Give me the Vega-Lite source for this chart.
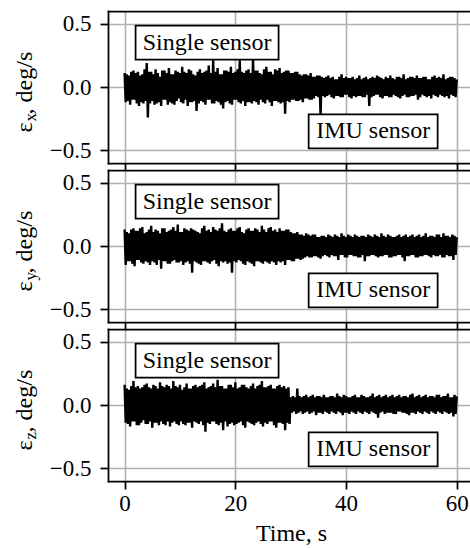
{
  "$schema": "https://vega.github.io/schema/vega-lite/v6.json",
  "padding": {"left": 12, "top": 11, "right": 0, "bottom": 0},
  "bounds": "flush",
  "spacing": 7,
  "background": "white",
  "config": {
    "view": {"stroke": null},
    "font": "Liberation Serif",
    "axis": {
      "domainColor": "black", "domainWidth": 1.75, "domainCap": "square",
      "tickColor": "black", "tickWidth": 1.75, "tickSize": 8,
      "labelFont": "Liberation Serif", "labelFontSize": 23, "labelColor": "black",
      "titleFont": "Liberation Serif", "titleFontSize": 24, "titleFontWeight": "normal", "titleColor": "black",
      "gridColor": "#b0b0b0", "gridWidth": 1.6, "gridOpacity": 1
    }
  },
  "datasets": {
    "ann": [
      {"t": 14.9, "v": 0.35, "label": "Single sensor"},
      {"t": 44.9, "v": -0.35, "label": "IMU sensor"}
    ],
    "ex": [
      {"t":0,"v":0.11},{"t":0.2,"v":-0.12},{"t":0.4,"v":0.1},{"t":0.6,"v":-0.11},
      {"t":0.8,"v":0.09},{"t":1,"v":-0.14},{"t":1.2,"v":0.12},{"t":1.4,"v":-0.1},
      {"t":1.6,"v":0.13},{"t":1.8,"v":-0.1},{"t":2,"v":0.11},{"t":2.2,"v":-0.13},
      {"t":2.4,"v":0.12},{"t":2.6,"v":-0.15},{"t":2.8,"v":0.09},{"t":3,"v":-0.12},
      {"t":3.2,"v":0.1},{"t":3.4,"v":-0.13},{"t":3.6,"v":0.14},{"t":3.8,"v":-0.11},
      {"t":4,"v":0.19},{"t":4.2,"v":-0.24},{"t":4.4,"v":0.12},{"t":4.6,"v":-0.13},
      {"t":4.8,"v":0.12},{"t":5,"v":-0.11},{"t":5.2,"v":0.1},{"t":5.4,"v":-0.14},
      {"t":5.6,"v":0.14},{"t":5.8,"v":-0.13},{"t":6,"v":0.11},{"t":6.2,"v":-0.12},
      {"t":6.4,"v":0.08},{"t":6.6,"v":-0.15},{"t":6.8,"v":0.13},{"t":7,"v":-0.1},
      {"t":7.2,"v":0.13},{"t":7.4,"v":-0.1},{"t":7.6,"v":0.11},{"t":7.8,"v":-0.14},
      {"t":8,"v":0.15},{"t":8.2,"v":-0.12},{"t":8.4,"v":0.1},{"t":8.6,"v":-0.13},
      {"t":8.8,"v":0.1},{"t":9,"v":-0.14},{"t":9.2,"v":0.13},{"t":9.4,"v":-0.11},
      {"t":9.6,"v":0.12},{"t":9.8,"v":-0.09},{"t":10,"v":0.11},{"t":10.2,"v":-0.12},
      {"t":10.4,"v":0.16},{"t":10.6,"v":-0.13},{"t":10.8,"v":0.12},{"t":11,"v":-0.1},
      {"t":11.2,"v":0.11},{"t":11.4,"v":-0.15},{"t":11.6,"v":0.14},{"t":11.8,"v":-0.12},
      {"t":12,"v":0.13},{"t":12.2,"v":-0.12},{"t":12.4,"v":0.1},{"t":12.6,"v":-0.11},
      {"t":12.8,"v":0.09},{"t":13,"v":-0.19},{"t":13.2,"v":0.12},{"t":13.4,"v":-0.13},
      {"t":13.6,"v":0.14},{"t":13.8,"v":-0.11},{"t":14,"v":0.11},{"t":14.2,"v":-0.12},
      {"t":14.4,"v":0.12},{"t":14.6,"v":-0.14},{"t":14.8,"v":0.13},{"t":15,"v":-0.1},
      {"t":15.2,"v":0.17},{"t":15.4,"v":-0.1},{"t":15.6,"v":0.11},{"t":15.8,"v":-0.13},
      {"t":16,"v":0.21},{"t":16.2,"v":-0.13},{"t":16.4,"v":0.12},{"t":16.6,"v":-0.11},
      {"t":16.8,"v":0.15},{"t":17,"v":-0.12},{"t":17.2,"v":0.1},{"t":17.4,"v":-0.14},
      {"t":17.6,"v":0.1},{"t":17.8,"v":-0.17},{"t":18,"v":0.13},{"t":18.2,"v":-0.12},
      {"t":18.4,"v":0.13},{"t":18.6,"v":-0.11},{"t":18.8,"v":0.12},{"t":19,"v":-0.13},
      {"t":19.2,"v":0.16},{"t":19.4,"v":-0.14},{"t":19.6,"v":0.11},{"t":19.8,"v":-0.1},
      {"t":20,"v":0.12},{"t":20.2,"v":-0.1},{"t":20.4,"v":0.14},{"t":20.6,"v":-0.12},
      {"t":20.8,"v":0.21},{"t":21,"v":-0.13},{"t":21.2,"v":0.12},{"t":21.4,"v":-0.11},
      {"t":21.6,"v":0.11},{"t":21.8,"v":-0.15},{"t":22,"v":0.13},{"t":22.2,"v":-0.12},
      {"t":22.4,"v":0.14},{"t":22.6,"v":-0.12},{"t":22.8,"v":0.11},{"t":23,"v":-0.13},
      {"t":23.2,"v":0.22},{"t":23.4,"v":-0.11},{"t":23.6,"v":0.13},{"t":23.8,"v":-0.12},
      {"t":24,"v":0.13},{"t":24.2,"v":-0.14},{"t":24.4,"v":0.11},{"t":24.6,"v":-0.1},
      {"t":24.8,"v":0.1},{"t":25,"v":-0.12},{"t":25.2,"v":0.14},{"t":25.4,"v":-0.13},
      {"t":25.6,"v":0.16},{"t":25.8,"v":-0.1},{"t":26,"v":0.12},{"t":26.2,"v":-0.12},
      {"t":26.4,"v":0.12},{"t":26.6,"v":-0.15},{"t":26.8,"v":0.1},{"t":27,"v":-0.11},
      {"t":27.2,"v":0.14},{"t":27.4,"v":-0.11},{"t":27.6,"v":0.13},{"t":27.8,"v":-0.12},
      {"t":28,"v":0.15},{"t":28.2,"v":-0.13},{"t":28.4,"v":0.11},{"t":28.6,"v":-0.12},
      {"t":28.8,"v":0.12},{"t":29,"v":-0.21},{"t":29.2,"v":0.13},{"t":29.4,"v":-0.11},
      {"t":29.6,"v":0.13},{"t":29.8,"v":-0.12},{"t":30,"v":0.11},{"t":30.2,"v":-0.1},
      {"t":30.4,"v":0.11},{"t":30.6,"v":-0.1},{"t":30.8,"v":0.12},{"t":31,"v":-0.11},
      {"t":31.2,"v":0.12},{"t":31.4,"v":-0.11},{"t":31.6,"v":0.1},{"t":31.8,"v":-0.1},
      {"t":32,"v":0.09},{"t":32.2,"v":-0.12},{"t":32.4,"v":0.1},{"t":32.6,"v":-0.09},
      {"t":32.8,"v":0.1},{"t":33,"v":-0.09},{"t":33.2,"v":0.09},{"t":33.4,"v":-0.1},
      {"t":33.6,"v":0.11},{"t":33.8,"v":-0.1},{"t":34,"v":0.08},{"t":34.2,"v":-0.09},
      {"t":34.4,"v":0.08},{"t":34.6,"v":-0.07},{"t":34.8,"v":0.09},{"t":35,"v":-0.08},
      {"t":35.2,"v":0.09},{"t":35.4,"v":-0.22},{"t":35.6,"v":0.08},{"t":35.8,"v":-0.07},
      {"t":36,"v":0.07},{"t":36.2,"v":-0.08},{"t":36.4,"v":0.08},{"t":36.6,"v":-0.07},
      {"t":36.8,"v":0.09},{"t":37,"v":-0.06},{"t":37.2,"v":0.07},{"t":37.4,"v":-0.08},
      {"t":37.6,"v":0.08},{"t":37.8,"v":-0.09},{"t":38,"v":0.06},{"t":38.2,"v":-0.07},
      {"t":38.4,"v":0.06},{"t":38.6,"v":-0.07},{"t":38.8,"v":0.08},{"t":39,"v":-0.08},
      {"t":39.2,"v":0.1},{"t":39.4,"v":-0.08},{"t":39.6,"v":0.07},{"t":39.8,"v":-0.06},
      {"t":40,"v":0.08},{"t":40.2,"v":-0.06},{"t":40.4,"v":0.07},{"t":40.6,"v":-0.08},
      {"t":40.8,"v":0.07},{"t":41,"v":-0.09},{"t":41.2,"v":0.08},{"t":41.4,"v":-0.07},
      {"t":41.6,"v":0.06},{"t":41.8,"v":-0.08},{"t":42,"v":0.07},{"t":42.2,"v":-0.07},
      {"t":42.4,"v":0.09},{"t":42.6,"v":-0.07},{"t":42.8,"v":0.06},{"t":43,"v":-0.08},
      {"t":43.2,"v":0.07},{"t":43.4,"v":-0.08},{"t":43.6,"v":0.08},{"t":43.8,"v":-0.06},
      {"t":44,"v":0.06},{"t":44.2,"v":-0.15},{"t":44.4,"v":0.07},{"t":44.6,"v":-0.08},
      {"t":44.8,"v":0.08},{"t":45,"v":-0.07},{"t":45.2,"v":0.07},{"t":45.4,"v":-0.06},
      {"t":45.6,"v":0.09},{"t":45.8,"v":-0.06},{"t":46,"v":0.08},{"t":46.2,"v":-0.08},
      {"t":46.4,"v":0.07},{"t":46.6,"v":-0.09},{"t":46.8,"v":0.06},{"t":47,"v":-0.07},
      {"t":47.2,"v":0.08},{"t":47.4,"v":-0.07},{"t":47.6,"v":0.07},{"t":47.8,"v":-0.08},
      {"t":48,"v":0.09},{"t":48.2,"v":-0.08},{"t":48.4,"v":0.07},{"t":48.6,"v":-0.06},
      {"t":48.8,"v":0.06},{"t":49,"v":-0.07},{"t":49.2,"v":0.08},{"t":49.4,"v":-0.08},
      {"t":49.6,"v":0.08},{"t":49.8,"v":-0.09},{"t":50,"v":0.07},{"t":50.2,"v":-0.07},
      {"t":50.4,"v":0.1},{"t":50.6,"v":-0.06},{"t":50.8,"v":0.06},{"t":51,"v":-0.08},
      {"t":51.2,"v":0.07},{"t":51.4,"v":-0.08},{"t":51.6,"v":0.08},{"t":51.8,"v":-0.07},
      {"t":52,"v":0.08},{"t":52.2,"v":-0.07},{"t":52.4,"v":0.07},{"t":52.6,"v":-0.06},
      {"t":52.8,"v":0.09},{"t":53,"v":-0.1},{"t":53.2,"v":0.07},{"t":53.4,"v":-0.08},
      {"t":53.6,"v":0.07},{"t":53.8,"v":-0.06},{"t":54,"v":0.08},{"t":54.2,"v":-0.07},
      {"t":54.4,"v":0.08},{"t":54.6,"v":-0.08},{"t":54.8,"v":0.06},{"t":55,"v":-0.07},
      {"t":55.2,"v":0.06},{"t":55.4,"v":-0.09},{"t":55.6,"v":0.08},{"t":55.8,"v":-0.06},
      {"t":56,"v":0.09},{"t":56.2,"v":-0.07},{"t":56.4,"v":0.07},{"t":56.6,"v":-0.08},
      {"t":56.8,"v":0.08},{"t":57,"v":-0.06},{"t":57.2,"v":0.07},{"t":57.4,"v":-0.07},
      {"t":57.6,"v":0.1},{"t":57.8,"v":-0.08},{"t":58,"v":0.06},{"t":58.2,"v":-0.07},
      {"t":58.4,"v":0.07},{"t":58.6,"v":-0.09},{"t":58.8,"v":0.08},{"t":59,"v":-0.06},
      {"t":59.2,"v":0.08},{"t":59.4,"v":-0.07},{"t":59.6,"v":0.07},{"t":59.8,"v":-0.08},
      {"t":60,"v":0.06}
    ],
    "ey": [
      {"t":0,"v":0.13},{"t":0.2,"v":-0.15},{"t":0.4,"v":0.11},{"t":0.6,"v":-0.12},
      {"t":0.8,"v":0.1},{"t":1,"v":-0.12},{"t":1.2,"v":0.13},{"t":1.4,"v":-0.14},
      {"t":1.6,"v":0.14},{"t":1.8,"v":-0.16},{"t":2,"v":0.12},{"t":2.2,"v":-0.11},
      {"t":2.4,"v":0.12},{"t":2.6,"v":-0.11},{"t":2.8,"v":0.14},{"t":3,"v":-0.13},
      {"t":3.2,"v":0.15},{"t":3.4,"v":-0.14},{"t":3.6,"v":0.1},{"t":3.8,"v":-0.12},
      {"t":4,"v":0.11},{"t":4.2,"v":-0.13},{"t":4.4,"v":0.13},{"t":4.6,"v":-0.15},
      {"t":4.8,"v":0.16},{"t":5,"v":-0.12},{"t":5.2,"v":0.11},{"t":5.4,"v":-0.13},
      {"t":5.6,"v":0.13},{"t":5.8,"v":-0.15},{"t":6,"v":0.12},{"t":6.2,"v":-0.11},
      {"t":6.4,"v":0.1},{"t":6.6,"v":-0.18},{"t":6.8,"v":0.14},{"t":7,"v":-0.12},
      {"t":7.2,"v":0.14},{"t":7.4,"v":-0.12},{"t":7.6,"v":0.11},{"t":7.8,"v":-0.14},
      {"t":8,"v":0.12},{"t":8.2,"v":-0.14},{"t":8.4,"v":0.13},{"t":8.6,"v":-0.12},
      {"t":8.8,"v":0.15},{"t":9,"v":-0.11},{"t":9.2,"v":0.12},{"t":9.4,"v":-0.13},
      {"t":9.6,"v":0.17},{"t":9.8,"v":-0.13},{"t":10,"v":0.11},{"t":10.2,"v":-0.12},
      {"t":10.4,"v":0.11},{"t":10.6,"v":-0.15},{"t":10.8,"v":0.14},{"t":11,"v":-0.13},
      {"t":11.2,"v":0.13},{"t":11.4,"v":-0.12},{"t":11.6,"v":0.12},{"t":11.8,"v":-0.14},
      {"t":12,"v":0.14},{"t":12.2,"v":-0.21},{"t":12.4,"v":0.13},{"t":12.6,"v":-0.12},
      {"t":12.8,"v":0.12},{"t":13,"v":-0.13},{"t":13.2,"v":0.11},{"t":13.4,"v":-0.14},
      {"t":13.6,"v":0.1},{"t":13.8,"v":-0.15},{"t":14,"v":0.14},{"t":14.2,"v":-0.12},
      {"t":14.4,"v":0.16},{"t":14.6,"v":-0.12},{"t":14.8,"v":0.12},{"t":15,"v":-0.13},
      {"t":15.2,"v":0.13},{"t":15.4,"v":-0.14},{"t":15.6,"v":0.11},{"t":15.8,"v":-0.12},
      {"t":16,"v":0.15},{"t":16.2,"v":-0.11},{"t":16.4,"v":0.13},{"t":16.6,"v":-0.14},
      {"t":16.8,"v":0.12},{"t":17,"v":-0.16},{"t":17.2,"v":0.14},{"t":17.4,"v":-0.12},
      {"t":17.6,"v":0.18},{"t":17.8,"v":-0.13},{"t":18,"v":0.12},{"t":18.2,"v":-0.12},
      {"t":18.4,"v":0.11},{"t":18.6,"v":-0.14},{"t":18.8,"v":0.13},{"t":19,"v":-0.13},
      {"t":19.2,"v":0.14},{"t":19.4,"v":-0.21},{"t":19.6,"v":0.12},{"t":19.8,"v":-0.12},
      {"t":20,"v":0.12},{"t":20.2,"v":-0.13},{"t":20.4,"v":0.14},{"t":20.6,"v":-0.11},
      {"t":20.8,"v":0.15},{"t":21,"v":-0.12},{"t":21.2,"v":0.11},{"t":21.4,"v":-0.14},
      {"t":21.6,"v":0.1},{"t":21.8,"v":-0.15},{"t":22,"v":0.13},{"t":22.2,"v":-0.12},
      {"t":22.4,"v":0.14},{"t":22.6,"v":-0.13},{"t":22.8,"v":0.12},{"t":23,"v":-0.14},
      {"t":23.2,"v":0.12},{"t":23.4,"v":-0.16},{"t":23.6,"v":0.14},{"t":23.8,"v":-0.12},
      {"t":24,"v":0.13},{"t":24.2,"v":-0.12},{"t":24.4,"v":0.11},{"t":24.6,"v":-0.13},
      {"t":24.8,"v":0.16},{"t":25,"v":-0.14},{"t":25.2,"v":0.13},{"t":25.4,"v":-0.12},
      {"t":25.6,"v":0.11},{"t":25.8,"v":-0.13},{"t":26,"v":0.14},{"t":26.2,"v":-0.14},
      {"t":26.4,"v":0.15},{"t":26.6,"v":-0.12},{"t":26.8,"v":0.12},{"t":27,"v":-0.13},
      {"t":27.2,"v":0.13},{"t":27.4,"v":-0.15},{"t":27.6,"v":0.11},{"t":27.8,"v":-0.12},
      {"t":28,"v":0.14},{"t":28.2,"v":-0.13},{"t":28.4,"v":0.12},{"t":28.6,"v":-0.12},
      {"t":28.8,"v":0.12},{"t":29,"v":-0.15},{"t":29.2,"v":0.13},{"t":29.4,"v":-0.11},
      {"t":29.6,"v":0.13},{"t":29.8,"v":-0.11},{"t":30,"v":0.11},{"t":30.2,"v":-0.12},
      {"t":30.4,"v":0.1},{"t":30.6,"v":-0.12},{"t":30.8,"v":0.1},{"t":31,"v":-0.1},
      {"t":31.2,"v":0.11},{"t":31.4,"v":-0.1},{"t":31.6,"v":0.09},{"t":31.8,"v":-0.11},
      {"t":32,"v":0.09},{"t":32.2,"v":-0.1},{"t":32.4,"v":0.08},{"t":32.6,"v":-0.09},
      {"t":32.8,"v":0.1},{"t":33,"v":-0.08},{"t":33.2,"v":0.09},{"t":33.4,"v":-0.09},
      {"t":33.6,"v":0.08},{"t":33.8,"v":-0.09},{"t":34,"v":0.09},{"t":34.2,"v":-0.08},
      {"t":34.4,"v":0.09},{"t":34.6,"v":-0.08},{"t":34.8,"v":0.07},{"t":35,"v":-0.09},
      {"t":35.2,"v":0.07},{"t":35.4,"v":-0.1},{"t":35.6,"v":0.08},{"t":35.8,"v":-0.08},
      {"t":36,"v":0.08},{"t":36.2,"v":-0.07},{"t":36.4,"v":0.07},{"t":36.6,"v":-0.08},
      {"t":36.8,"v":0.09},{"t":37,"v":-0.09},{"t":37.2,"v":0.08},{"t":37.4,"v":-0.07},
      {"t":37.6,"v":0.07},{"t":37.8,"v":-0.08},{"t":38,"v":0.09},{"t":38.2,"v":-0.08},
      {"t":38.4,"v":0.08},{"t":38.6,"v":-0.11},{"t":38.8,"v":0.07},{"t":39,"v":-0.07},
      {"t":39.2,"v":0.1},{"t":39.4,"v":-0.07},{"t":39.6,"v":0.08},{"t":39.8,"v":-0.09},
      {"t":40,"v":0.07},{"t":40.2,"v":-0.09},{"t":40.4,"v":0.09},{"t":40.6,"v":-0.07},
      {"t":40.8,"v":0.08},{"t":41,"v":-0.07},{"t":41.2,"v":0.07},{"t":41.4,"v":-0.08},
      {"t":41.6,"v":0.09},{"t":41.8,"v":-0.08},{"t":42,"v":0.08},{"t":42.2,"v":-0.09},
      {"t":42.4,"v":0.07},{"t":42.6,"v":-0.09},{"t":42.8,"v":0.08},{"t":43,"v":-0.07},
      {"t":43.2,"v":0.08},{"t":43.4,"v":-0.12},{"t":43.6,"v":0.07},{"t":43.8,"v":-0.08},
      {"t":44,"v":0.09},{"t":44.2,"v":-0.08},{"t":44.4,"v":0.08},{"t":44.6,"v":-0.07},
      {"t":44.8,"v":0.07},{"t":45,"v":-0.07},{"t":45.2,"v":0.09},{"t":45.4,"v":-0.08},
      {"t":45.6,"v":0.08},{"t":45.8,"v":-0.09},{"t":46,"v":0.07},{"t":46.2,"v":-0.08},
      {"t":46.4,"v":0.1},{"t":46.6,"v":-0.08},{"t":46.8,"v":0.08},{"t":47,"v":-0.07},
      {"t":47.2,"v":0.07},{"t":47.4,"v":-0.07},{"t":47.6,"v":0.09},{"t":47.8,"v":-0.09},
      {"t":48,"v":0.08},{"t":48.2,"v":-0.09},{"t":48.4,"v":0.07},{"t":48.6,"v":-0.08},
      {"t":48.8,"v":0.07},{"t":49,"v":-0.08},{"t":49.2,"v":0.08},{"t":49.4,"v":-0.07},
      {"t":49.6,"v":0.09},{"t":49.8,"v":-0.07},{"t":50,"v":0.07},{"t":50.2,"v":-0.09},
      {"t":50.4,"v":0.08},{"t":50.6,"v":-0.12},{"t":50.8,"v":0.09},{"t":51,"v":-0.08},
      {"t":51.2,"v":0.07},{"t":51.4,"v":-0.08},{"t":51.6,"v":0.08},{"t":51.8,"v":-0.07},
      {"t":52,"v":0.09},{"t":52.2,"v":-0.07},{"t":52.4,"v":0.07},{"t":52.6,"v":-0.09},
      {"t":52.8,"v":0.08},{"t":53,"v":-0.09},{"t":53.2,"v":0.09},{"t":53.4,"v":-0.08},
      {"t":53.6,"v":0.07},{"t":53.8,"v":-0.08},{"t":54,"v":0.08},{"t":54.2,"v":-0.07},
      {"t":54.4,"v":0.1},{"t":54.6,"v":-0.07},{"t":54.8,"v":0.07},{"t":55,"v":-0.08},
      {"t":55.2,"v":0.08},{"t":55.4,"v":-0.09},{"t":55.6,"v":0.08},{"t":55.8,"v":-0.07},
      {"t":56,"v":0.07},{"t":56.2,"v":-0.08},{"t":56.4,"v":0.09},{"t":56.6,"v":-0.08},
      {"t":56.8,"v":0.09},{"t":57,"v":-0.07},{"t":57.2,"v":0.07},{"t":57.4,"v":-0.09},
      {"t":57.6,"v":0.1},{"t":57.8,"v":-0.09},{"t":58,"v":0.08},{"t":58.2,"v":-0.07},
      {"t":58.4,"v":0.08},{"t":58.6,"v":-0.08},{"t":58.8,"v":0.07},{"t":59,"v":-0.08},
      {"t":59.2,"v":0.09},{"t":59.4,"v":-0.11},{"t":59.6,"v":0.08},{"t":59.8,"v":-0.07},
      {"t":60,"v":0.07}
    ],
    "ez": [
      {"t":0,"v":0.16},{"t":0.2,"v":-0.14},{"t":0.4,"v":0.13},{"t":0.6,"v":-0.15},
      {"t":0.8,"v":0.12},{"t":1,"v":-0.17},{"t":1.2,"v":0.15},{"t":1.4,"v":-0.13},
      {"t":1.6,"v":0.19},{"t":1.8,"v":-0.13},{"t":2,"v":0.14},{"t":2.2,"v":-0.16},
      {"t":2.4,"v":0.15},{"t":2.6,"v":-0.16},{"t":2.8,"v":0.13},{"t":3,"v":-0.14},
      {"t":3.2,"v":0.14},{"t":3.4,"v":-0.12},{"t":3.6,"v":0.16},{"t":3.8,"v":-0.15},
      {"t":4,"v":0.17},{"t":4.2,"v":-0.15},{"t":4.4,"v":0.14},{"t":4.6,"v":-0.13},
      {"t":4.8,"v":0.13},{"t":5,"v":-0.18},{"t":5.2,"v":0.16},{"t":5.4,"v":-0.14},
      {"t":5.6,"v":0.15},{"t":5.8,"v":-0.14},{"t":6,"v":0.13},{"t":6.2,"v":-0.16},
      {"t":6.4,"v":0.18},{"t":6.6,"v":-0.13},{"t":6.8,"v":0.15},{"t":7,"v":-0.15},
      {"t":7.2,"v":0.14},{"t":7.4,"v":-0.16},{"t":7.6,"v":0.16},{"t":7.8,"v":-0.13},
      {"t":8,"v":0.15},{"t":8.2,"v":-0.17},{"t":8.4,"v":0.13},{"t":8.6,"v":-0.14},
      {"t":8.8,"v":0.19},{"t":9,"v":-0.13},{"t":9.2,"v":0.15},{"t":9.4,"v":-0.15},
      {"t":9.6,"v":0.14},{"t":9.8,"v":-0.16},{"t":10,"v":0.16},{"t":10.2,"v":-0.13},
      {"t":10.4,"v":0.12},{"t":10.6,"v":-0.15},{"t":10.8,"v":0.14},{"t":11,"v":-0.16},
      {"t":11.2,"v":0.17},{"t":11.4,"v":-0.14},{"t":11.6,"v":0.13},{"t":11.8,"v":-0.14},
      {"t":12,"v":0.13},{"t":12.2,"v":-0.18},{"t":12.4,"v":0.15},{"t":12.6,"v":-0.13},
      {"t":12.8,"v":0.16},{"t":13,"v":-0.14},{"t":13.2,"v":0.14},{"t":13.4,"v":-0.15},
      {"t":13.6,"v":0.15},{"t":13.8,"v":-0.13},{"t":14,"v":0.16},{"t":14.2,"v":-0.16},
      {"t":14.4,"v":0.18},{"t":14.6,"v":-0.21},{"t":14.8,"v":0.13},{"t":15,"v":-0.14},
      {"t":15.2,"v":0.14},{"t":15.4,"v":-0.15},{"t":15.6,"v":0.15},{"t":15.8,"v":-0.13},
      {"t":16,"v":0.17},{"t":16.2,"v":-0.13},{"t":16.4,"v":0.14},{"t":16.6,"v":-0.15},
      {"t":16.8,"v":0.2},{"t":17,"v":-0.16},{"t":17.2,"v":0.15},{"t":17.4,"v":-0.14},
      {"t":17.6,"v":0.15},{"t":17.8,"v":-0.2},{"t":18,"v":0.13},{"t":18.2,"v":-0.13},
      {"t":18.4,"v":0.13},{"t":18.6,"v":-0.17},{"t":18.8,"v":0.16},{"t":19,"v":-0.15},
      {"t":19.2,"v":0.16},{"t":19.4,"v":-0.14},{"t":19.6,"v":0.14},{"t":19.8,"v":-0.16},
      {"t":20,"v":0.18},{"t":20.2,"v":-0.15},{"t":20.4,"v":0.13},{"t":20.6,"v":-0.14},
      {"t":20.8,"v":0.14},{"t":21,"v":-0.13},{"t":21.2,"v":0.16},{"t":21.4,"v":-0.16},
      {"t":21.6,"v":0.16},{"t":21.8,"v":-0.18},{"t":22,"v":0.14},{"t":22.2,"v":-0.13},
      {"t":22.4,"v":0.13},{"t":22.6,"v":-0.14},{"t":22.8,"v":0.15},{"t":23,"v":-0.15},
      {"t":23.2,"v":0.17},{"t":23.4,"v":-0.16},{"t":23.6,"v":0.13},{"t":23.8,"v":-0.14},
      {"t":24,"v":0.15},{"t":24.2,"v":-0.13},{"t":24.4,"v":0.16},{"t":24.6,"v":-0.15},
      {"t":24.8,"v":0.19},{"t":25,"v":-0.17},{"t":25.2,"v":0.14},{"t":25.4,"v":-0.14},
      {"t":25.6,"v":0.14},{"t":25.8,"v":-0.15},{"t":26,"v":0.15},{"t":26.2,"v":-0.13},
      {"t":26.4,"v":0.16},{"t":26.6,"v":-0.13},{"t":26.8,"v":0.13},{"t":27,"v":-0.16},
      {"t":27.2,"v":0.13},{"t":27.4,"v":-0.18},{"t":27.6,"v":0.15},{"t":27.8,"v":-0.14},
      {"t":28,"v":0.16},{"t":28.2,"v":-0.14},{"t":28.4,"v":0.14},{"t":28.6,"v":-0.15},
      {"t":28.8,"v":0.15},{"t":29,"v":-0.2},{"t":29.2,"v":0.13},{"t":29.4,"v":-0.14},
      {"t":29.6,"v":0.14},{"t":29.8,"v":-0.15},{"t":30,"v":0.06},{"t":30.2,"v":-0.06},
      {"t":30.4,"v":0.07},{"t":30.6,"v":-0.05},{"t":30.8,"v":0.06},{"t":31,"v":-0.07},
      {"t":31.2,"v":0.13},{"t":31.4,"v":-0.06},{"t":31.6,"v":0.07},{"t":31.8,"v":-0.05},
      {"t":32,"v":0.06},{"t":32.2,"v":-0.07},{"t":32.4,"v":0.07},{"t":32.6,"v":-0.06},
      {"t":32.8,"v":0.08},{"t":33,"v":-0.05},{"t":33.2,"v":0.06},{"t":33.4,"v":-0.07},
      {"t":33.6,"v":0.07},{"t":33.8,"v":-0.06},{"t":34,"v":0.08},{"t":34.2,"v":-0.05},
      {"t":34.4,"v":0.06},{"t":34.6,"v":-0.08},{"t":34.8,"v":0.07},{"t":35,"v":-0.06},
      {"t":35.2,"v":0.07},{"t":35.4,"v":-0.06},{"t":35.6,"v":0.06},{"t":35.8,"v":-0.07},
      {"t":36,"v":0.08},{"t":36.2,"v":-0.05},{"t":36.4,"v":0.06},{"t":36.6,"v":-0.06},
      {"t":36.8,"v":0.06},{"t":37,"v":-0.07},{"t":37.2,"v":0.07},{"t":37.4,"v":-0.05},
      {"t":37.6,"v":0.07},{"t":37.8,"v":-0.06},{"t":38,"v":0.06},{"t":38.2,"v":-0.07},
      {"t":38.4,"v":0.09},{"t":38.6,"v":-0.05},{"t":38.8,"v":0.07},{"t":39,"v":-0.06},
      {"t":39.2,"v":0.06},{"t":39.4,"v":-0.08},{"t":39.6,"v":0.08},{"t":39.8,"v":-0.06},
      {"t":40,"v":0.07},{"t":40.2,"v":-0.06},{"t":40.4,"v":0.06},{"t":40.6,"v":-0.07},
      {"t":40.8,"v":0.06},{"t":41,"v":-0.05},{"t":41.2,"v":0.07},{"t":41.4,"v":-0.06},
      {"t":41.6,"v":0.08},{"t":41.8,"v":-0.07},{"t":42,"v":0.06},{"t":42.2,"v":-0.05},
      {"t":42.4,"v":0.06},{"t":42.6,"v":-0.06},{"t":42.8,"v":0.08},{"t":43,"v":-0.07},
      {"t":43.2,"v":0.07},{"t":43.4,"v":-0.05},{"t":43.6,"v":0.06},{"t":43.8,"v":-0.06},
      {"t":44,"v":0.06},{"t":44.2,"v":-0.07},{"t":44.4,"v":0.07},{"t":44.6,"v":-0.05},
      {"t":44.8,"v":0.09},{"t":45,"v":-0.06},{"t":45.2,"v":0.06},{"t":45.4,"v":-0.07},
      {"t":45.6,"v":0.07},{"t":45.8,"v":-0.1},{"t":46,"v":0.08},{"t":46.2,"v":-0.06},
      {"t":46.4,"v":0.06},{"t":46.6,"v":-0.05},{"t":46.8,"v":0.07},{"t":47,"v":-0.07},
      {"t":47.2,"v":0.08},{"t":47.4,"v":-0.06},{"t":47.6,"v":0.06},{"t":47.8,"v":-0.06},
      {"t":48,"v":0.07},{"t":48.2,"v":-0.06},{"t":48.4,"v":0.08},{"t":48.6,"v":-0.07},
      {"t":48.8,"v":0.06},{"t":49,"v":-0.07},{"t":49.2,"v":0.07},{"t":49.4,"v":-0.05},
      {"t":49.6,"v":0.08},{"t":49.8,"v":-0.05},{"t":50,"v":0.06},{"t":50.2,"v":-0.06},
      {"t":50.4,"v":0.07},{"t":50.6,"v":-0.06},{"t":50.8,"v":0.07},{"t":51,"v":-0.07},
      {"t":51.2,"v":0.06},{"t":51.4,"v":-0.08},{"t":51.6,"v":0.08},{"t":51.8,"v":-0.06},
      {"t":52,"v":0.09},{"t":52.2,"v":-0.06},{"t":52.4,"v":0.06},{"t":52.6,"v":-0.07},
      {"t":52.8,"v":0.07},{"t":53,"v":-0.05},{"t":53.2,"v":0.08},{"t":53.4,"v":-0.06},
      {"t":53.6,"v":0.06},{"t":53.8,"v":-0.07},{"t":54,"v":0.07},{"t":54.2,"v":-0.05},
      {"t":54.4,"v":0.08},{"t":54.6,"v":-0.06},{"t":54.8,"v":0.06},{"t":55,"v":-0.07},
      {"t":55.2,"v":0.07},{"t":55.4,"v":-0.05},{"t":55.6,"v":0.07},{"t":55.8,"v":-0.06},
      {"t":56,"v":0.06},{"t":56.2,"v":-0.07},{"t":56.4,"v":0.08},{"t":56.6,"v":-0.05},
      {"t":56.8,"v":0.08},{"t":57,"v":-0.06},{"t":57.2,"v":0.06},{"t":57.4,"v":-0.07},
      {"t":57.6,"v":0.07},{"t":57.8,"v":-0.05},{"t":58,"v":0.07},{"t":58.2,"v":-0.06},
      {"t":58.4,"v":0.09},{"t":58.6,"v":-0.07},{"t":58.8,"v":0.06},{"t":59,"v":-0.06},
      {"t":59.2,"v":0.06},{"t":59.4,"v":-0.09},{"t":59.6,"v":0.08},{"t":59.8,"v":-0.07},
      {"t":60,"v":0.07}
    ]
  },
  "vconcat": [
    {
      "width": 362, "height": 152,
      "layer": [
        {"data": {"name": "ex"}, "mark": {"type": "line", "color": "black", "strokeWidth": 2.4},
         "encoding": {
           "x": {"field": "t", "type": "quantitative", "scale": {"domain": [-3, 62.4], "nice": false, "zero": false},
                 "axis": {"values": [0, 20, 40, 60], "labels": false, "title": null}},
           "y": {"field": "v", "type": "quantitative", "scale": {"domain": [-0.6, 0.6], "nice": false, "zero": false},
                 "axis": {"values": [-0.5, 0, 0.5], "format": ".1f", "labelFont": "Liberation Serif", "labelFontSize": 23, "labelPadding": 9, "title": "\u03b5\u00a0\u200a, deg/s", "titleFont": "Liberation Serif", "titleX": -77, "titleY": 121, "titleAngle": 270, "titleBaseline": "alphabetic", "titleAlign": "left"}}
         }},
        {"data": {"name": "ann"}, "transform": [{"filter": "datum.label == 'Single sensor'"}],
         "mark": {"type": "rect", "fill": "white", "stroke": "black", "strokeWidth": 1.75, "xOffset": -71.5, "x2Offset": 71.5, "yOffset": -17, "y2Offset": 17},
         "encoding": {
           "x": {"field": "t", "type": "quantitative", "axis": {"orient": "top", "labels": false, "ticks": false, "grid": false, "title": null}},
           "x2": {"field": "t"},
           "y": {"field": "v", "type": "quantitative", "axis": null},
           "y2": {"field": "v"}
         }},
        {"data": {"name": "ann"}, "transform": [{"filter": "datum.label == 'IMU sensor'"}],
         "mark": {"type": "rect", "fill": "white", "stroke": "black", "strokeWidth": 1.75, "xOffset": -64.5, "x2Offset": 64.5, "yOffset": -17, "y2Offset": 17},
         "encoding": {
           "x": {"field": "t", "type": "quantitative", "axis": null},
           "x2": {"field": "t"},
           "y": {"field": "v", "type": "quantitative", "axis": {"orient": "right", "labels": false, "ticks": false, "domain": false, "grid": false, "title": "x", "titleFont": "Liberation Serif", "titleFontSize": 17, "titleX": -435, "titleY": 110, "titleAngle": 270, "titleBaseline": "alphabetic", "titleAlign": "left"}},
           "y2": {"field": "v"}
         }},
        {"data": {"name": "ann"},
         "mark": {"type": "text", "font": "Liberation Serif", "fontSize": 24, "color": "black", "align": "center", "baseline": "middle"},
         "encoding": {
           "x": {"field": "t", "type": "quantitative", "axis": null},
           "y": {"field": "v", "type": "quantitative", "axis": null},
           "text": {"field": "label"}
         }}
      ],
      "resolve": {"axis": {"x": "independent", "y": "independent"}}
    },
    {
      "width": 362, "height": 152,
      "layer": [
        {"data": {"name": "ey"}, "mark": {"type": "line", "color": "black", "strokeWidth": 2.4},
         "encoding": {
           "x": {"field": "t", "type": "quantitative", "scale": {"domain": [-3, 62.4], "nice": false, "zero": false},
                 "axis": {"values": [0, 20, 40, 60], "labels": false, "title": null}},
           "y": {"field": "v", "type": "quantitative", "scale": {"domain": [-0.6, 0.6], "nice": false, "zero": false},
                 "axis": {"values": [-0.5, 0, 0.5], "format": ".1f", "labelFont": "Liberation Serif", "labelFontSize": 23, "labelPadding": 9, "title": "\u03b5\u00a0\u200a, deg/s", "titleFont": "Liberation Serif", "titleX": -77, "titleY": 121, "titleAngle": 270, "titleBaseline": "alphabetic", "titleAlign": "left"}}
         }},
        {"data": {"name": "ann"}, "transform": [{"filter": "datum.label == 'Single sensor'"}],
         "mark": {"type": "rect", "fill": "white", "stroke": "black", "strokeWidth": 1.75, "xOffset": -71.5, "x2Offset": 71.5, "yOffset": -17, "y2Offset": 17},
         "encoding": {
           "x": {"field": "t", "type": "quantitative", "axis": {"orient": "top", "labels": false, "ticks": false, "grid": false, "title": null}},
           "x2": {"field": "t"},
           "y": {"field": "v", "type": "quantitative", "axis": null},
           "y2": {"field": "v"}
         }},
        {"data": {"name": "ann"}, "transform": [{"filter": "datum.label == 'IMU sensor'"}],
         "mark": {"type": "rect", "fill": "white", "stroke": "black", "strokeWidth": 1.75, "xOffset": -64.5, "x2Offset": 64.5, "yOffset": -17, "y2Offset": 17},
         "encoding": {
           "x": {"field": "t", "type": "quantitative", "axis": null},
           "x2": {"field": "t"},
           "y": {"field": "v", "type": "quantitative", "axis": {"orient": "right", "labels": false, "ticks": false, "domain": false, "grid": false, "title": "y", "titleFont": "Liberation Serif", "titleFontSize": 17, "titleX": -435, "titleY": 110, "titleAngle": 270, "titleBaseline": "alphabetic", "titleAlign": "left"}},
           "y2": {"field": "v"}
         }},
        {"data": {"name": "ann"},
         "mark": {"type": "text", "font": "Liberation Serif", "fontSize": 24, "color": "black", "align": "center", "baseline": "middle"},
         "encoding": {
           "x": {"field": "t", "type": "quantitative", "axis": null},
           "y": {"field": "v", "type": "quantitative", "axis": null},
           "text": {"field": "label"}
         }}
      ],
      "resolve": {"axis": {"x": "independent", "y": "independent"}}
    },
    {
      "width": 362, "height": 152,
      "layer": [
        {"data": {"name": "ez"}, "mark": {"type": "line", "color": "black", "strokeWidth": 2.4},
         "encoding": {
           "x": {"field": "t", "type": "quantitative", "scale": {"domain": [-3, 62.4], "nice": false, "zero": false},
                 "axis": {"values": [0, 20, 40, 60], "labelFont": "Liberation Serif", "labelFontSize": 23, "labelPadding": 3, "title": "Time, s", "titleFont": "Liberation Serif", "titlePadding": 6, "titleX": 183}},
           "y": {"field": "v", "type": "quantitative", "scale": {"domain": [-0.6, 0.6], "nice": false, "zero": false},
                 "axis": {"values": [-0.5, 0, 0.5], "format": ".1f", "labelFont": "Liberation Serif", "labelFontSize": 23, "labelPadding": 9, "title": "\u03b5\u00a0\u200a, deg/s", "titleFont": "Liberation Serif", "titleX": -77, "titleY": 121, "titleAngle": 270, "titleBaseline": "alphabetic", "titleAlign": "left"}}
         }},
        {"data": {"name": "ann"}, "transform": [{"filter": "datum.label == 'Single sensor'"}],
         "mark": {"type": "rect", "fill": "white", "stroke": "black", "strokeWidth": 1.75, "xOffset": -71.5, "x2Offset": 71.5, "yOffset": -17, "y2Offset": 17},
         "encoding": {
           "x": {"field": "t", "type": "quantitative", "axis": {"orient": "top", "labels": false, "ticks": false, "grid": false, "title": null}},
           "x2": {"field": "t"},
           "y": {"field": "v", "type": "quantitative", "axis": null},
           "y2": {"field": "v"}
         }},
        {"data": {"name": "ann"}, "transform": [{"filter": "datum.label == 'IMU sensor'"}],
         "mark": {"type": "rect", "fill": "white", "stroke": "black", "strokeWidth": 1.75, "xOffset": -64.5, "x2Offset": 64.5, "yOffset": -17, "y2Offset": 17},
         "encoding": {
           "x": {"field": "t", "type": "quantitative", "axis": null},
           "x2": {"field": "t"},
           "y": {"field": "v", "type": "quantitative", "axis": {"orient": "right", "labels": false, "ticks": false, "domain": false, "grid": false, "title": "z", "titleFont": "Liberation Serif", "titleFontSize": 17, "titleX": -435, "titleY": 110, "titleAngle": 270, "titleBaseline": "alphabetic", "titleAlign": "left"}},
           "y2": {"field": "v"}
         }},
        {"data": {"name": "ann"},
         "mark": {"type": "text", "font": "Liberation Serif", "fontSize": 24, "color": "black", "align": "center", "baseline": "middle"},
         "encoding": {
           "x": {"field": "t", "type": "quantitative", "axis": null},
           "y": {"field": "v", "type": "quantitative", "axis": null},
           "text": {"field": "label"}
         }}
      ],
      "resolve": {"axis": {"x": "independent", "y": "independent"}}
    }
  ]
}
